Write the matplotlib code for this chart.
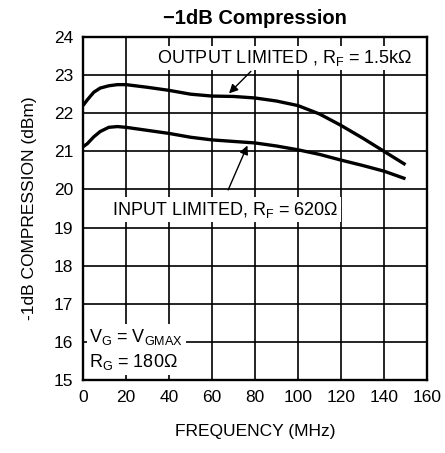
import numpy as np
import matplotlib
matplotlib.use("Agg")
import matplotlib.pyplot as plt

plt.rcParams["font.family"] = ["Liberation Sans", "DejaVu Sans"]
plt.rcParams["mathtext.fontset"] = "custom"
plt.rcParams["mathtext.rm"] = "Liberation Sans"
plt.rcParams["mathtext.it"] = "Liberation Sans"

# curves
freq = [0, 2, 5, 8, 12, 16, 20, 30, 40, 50, 60, 70, 80, 90, 100, 110, 120, 130, 140, 150]
out_lim = [22.2, 22.35, 22.55, 22.66, 22.72, 22.75, 22.75, 22.68, 22.6, 22.5, 22.45, 22.44, 22.4, 22.32, 22.2, 21.98, 21.68, 21.35, 21.0, 20.65]
in_lim = [21.12, 21.2, 21.38, 21.52, 21.63, 21.65, 21.63, 21.55, 21.47, 21.37, 21.3, 21.26, 21.22, 21.14, 21.04, 20.92, 20.77, 20.63, 20.48, 20.28]

xticks = [0, 20, 40, 60, 80, 100, 120, 140, 160]
yticks = [15, 16, 17, 18, 19, 20, 21, 22, 23, 24]

fig = plt.figure(figsize=(4.45, 4.53), dpi=100)
ax = fig.add_axes([83/445, 1-380/453, (427-83)/445, (380-37)/453])

ax.plot(freq, out_lim, color="black", lw=2.4, solid_capstyle="butt", zorder=3)
ax.plot(freq, in_lim, color="black", lw=2.4, solid_capstyle="butt", zorder=3)

ax.set_xlim(0, 160)
ax.set_ylim(15, 24)
ax.set_xticks(xticks)
ax.set_yticks(yticks)
ax.tick_params(length=0, labelsize=12.5, pad=7)
ax.grid(True, color="black", lw=1.2)
ax.set_axisbelow(True)
for s in ax.spines.values():
    s.set_linewidth(1.7)

ax.set_title("−1dB Compression", fontsize=14.5, fontweight="bold", pad=9)
ax.set_xlabel("FREQUENCY (MHz)", fontsize=12.5, labelpad=14)
ax.set_ylabel("-1dB COMPRESSION (dBm)", fontsize=12.5, labelpad=12)

box = dict(facecolor="white", edgecolor="none", pad=1.5)
ax.text(153.5, 23.45, r"OUTPUT LIMITED , R$_\mathrm{F}$ = 1.5k$\Omega$", fontsize=13,
        ha="right", va="center", bbox=box, zorder=4)
ax.annotate("", xy=(67, 22.47), xytext=(79, 23.15),
            arrowprops=dict(arrowstyle="-|>", color="black", lw=1.0, mutation_scale=13), zorder=4)

ax.text(13.5, 19.47, r"INPUT LIMITED, R$_\mathrm{F}$ = 620$\Omega$", fontsize=13,
        ha="left", va="center", bbox=box, zorder=4)
ax.annotate("", xy=(77, 21.22), xytext=(67, 19.92),
            arrowprops=dict(arrowstyle="-|>", color="black", lw=1.0, mutation_scale=13), zorder=4)

ax.text(3, 16.13, r"V$_\mathrm{G}$ = V$_\mathrm{GMAX}$", fontsize=13, ha="left", va="center",
        bbox=dict(facecolor="white", edgecolor="none", pad=2), zorder=4)
ax.text(3, 15.47, r"R$_\mathrm{G}$ = 180$\Omega$", fontsize=13, ha="left", va="center",
        bbox=dict(facecolor="white", edgecolor="none", pad=2), zorder=4)

fig.savefig("out.png", dpi=100)
